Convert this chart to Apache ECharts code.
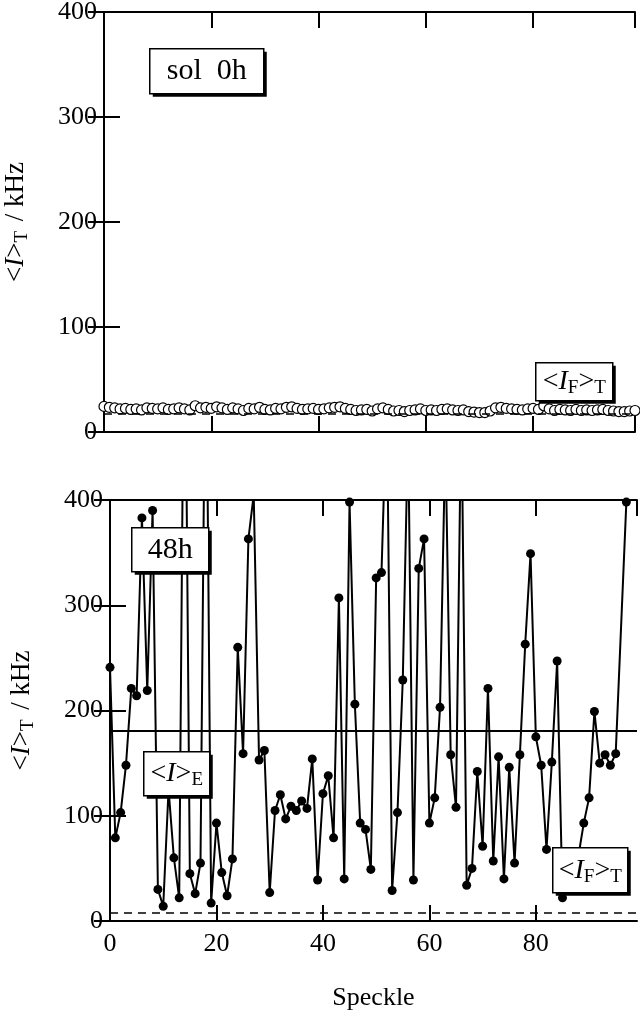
<!DOCTYPE html>
<html>
<head>
<meta charset="utf-8">
<script src="https://cdn.jsdelivr.net/npm/echarts@6/dist/echarts.min.js"></script>
<style>
  html, body { margin: 0; padding: 0; background: #fff; }
  #myChart { width: 640px; height: 1016px; }
</style>
</head>
<body>
<div id="myChart"></div>
<script>
// top panel: sol 0h, open circles
var topValues = [
  24.4, 23.5, 23, 22, 22.5, 21.5, 22, 21, 23, 22.5, 22,
  23, 21.5, 22, 23, 22, 21, 25, 23, 23.5, 22.5,
  24, 23, 21.5, 23, 22, 20.5, 22.5, 22, 23.5, 21.5,
  21, 22.5, 22, 23.5, 24, 22.5, 21.5, 22, 22.5, 21.5,
  22, 23, 23.5, 24, 22.5, 21.5, 20.5, 21, 21.5, 20,
  22, 23, 21.5, 20, 20.5, 19.5, 20.5, 21, 22, 20.5,
  21, 20.5, 21.5, 22, 21, 20.5, 21, 19.5, 19, 18.5,
  18.5, 20, 23, 23.5, 22.5, 22, 21.5, 21, 22, 22.5,
  21.5, 25, 22, 20.5, 21.5, 21, 20.5, 21.5, 20.5, 21,
  20.5, 21, 21.5, 20.5, 20, 19.5, 19.5, 20, 20.5
];
// bottom panel: 48h, filled circles (values above 400 run off the frame)
var bottomValues = [
  241, 79, 103, 148, 221, 214, 383, 219, 390, 30,
  14, 125, 60, 22, 640, 45, 26, 55, 610, 17,
  93, 46, 24, 59, 260, 159, 363, 405, 153, 162,
  27, 105, 120, 97, 109, 105, 114, 107, 154, 39,
  121, 138, 79, 307, 40, 398, 206, 93, 87, 49,
  326, 331, 500, 29, 103, 229, 470, 39, 335, 363,
  93, 117, 203, 460, 158, 108, 500, 34, 50, 142,
  71, 221, 57, 156, 40, 146, 55, 158, 263, 349,
  175, 148, 68, 151, 247, 22, 55, 40, 62, 93,
  117, 199, 150, 158, 148, 159, null, 398
];
var topFloor = 17;      // <I_F>_T, sol 0h
var bottomFloor = 8;    // <I_F>_T, 48h
var bottomMean = 181;   // <I>_E
var yTicks = [0, 100, 200, 300, 400];
var xTicks = [0, 20, 40, 60, 80];

var FONT = 'Liberation Serif';
var myChart = echarts.init(document.getElementById('myChart'));

function xAx (grid, pos, labels, name) {
  return {
    type: 'value', gridIndex: grid, position: pos,
    min: xTicks[0], max: 99, interval: xTicks[1] - xTicks[0],
    name: name || '', nameLocation: 'middle', nameGap: 64,
    nameTextStyle: { fontFamily: FONT, fontSize: 26, color: '#000' },
    axisLine: { show: true, onZero: false, lineStyle: { color: '#000', width: 2 } },
    axisTick: { show: true, inside: true, length: 16, lineStyle: { color: '#000', width: 2 } },
    axisLabel: { show: labels, showMaxLabel: false, margin: 10, fontFamily: FONT, fontSize: 26, color: '#000' },
    splitLine: { show: false }
  };
}
function yAx (grid, pos, labels) {
  return {
    type: 'value', gridIndex: grid, position: pos,
    min: yTicks[0], max: yTicks[yTicks.length - 1], interval: yTicks[1] - yTicks[0],
    name: labels ? '{a|<}{i|I}{a|>}{s|T}{a| / kHz}' : '',
    nameLocation: 'middle', nameGap: 72,
    nameTextStyle: {
      fontFamily: FONT, fontSize: 27, color: '#000',
      rich: {
        a: { fontFamily: FONT, fontSize: 27, color: '#000' },
        i: { fontFamily: FONT, fontSize: 27, fontStyle: 'italic', color: '#000' },
        s: { fontFamily: FONT, fontSize: 19, color: '#000', padding: [13, 3, 0, 0] }
      }
    },
    axisLine: { show: true, lineStyle: { color: '#000', width: 2 } },
    axisTick: { show: true, inside: true, length: 16, lineStyle: { color: '#000', width: 2 } },
    axisLabel: { show: labels, margin: 7, fontFamily: FONT, fontSize: 26, color: '#000' },
    splitLine: { show: false }
  };
}

function box (x, y, w, h, rich, text) {
  return {
    type: 'group', left: x, top: y, z: 100,
    children: [
      { type: 'rect', z: 100, shape: { x: 3, y: 3, width: w, height: h }, style: { fill: '#000' } },
      { type: 'rect', z: 101, shape: { x: 0, y: 0, width: w, height: h }, style: { fill: '#fff', stroke: '#000', lineWidth: 1.5 } },
      { type: 'text', z: 102, x: w / 2, y: h / 2,
        style: { text: text, align: 'center', verticalAlign: 'middle', rich: rich,
                 fontFamily: FONT, fontSize: 30, fill: '#000' } }
    ]
  };
}
var boxRich = {
  a: { fontFamily: FONT, fontSize: 28, color: '#000' },
  i: { fontFamily: FONT, fontSize: 28, fontStyle: 'italic', color: '#000' },
  s: { fontFamily: FONT, fontSize: 19, color: '#000', padding: [13, 0, 0, 0] }
};

myChart.setOption({
  animation: false,
  grid: [
    { left: 104, right: 5, top: 12, height: 420, outerBoundsMode: 'none' },
    { left: 110, right: 3, top: 500, height: 421, outerBoundsMode: 'none' }
  ],
  xAxis: [xAx(0, 'bottom', false), xAx(0, 'top', false), xAx(1, 'bottom', true, 'Speckle'), xAx(1, 'top', false)],
  yAxis: [yAx(0, 'left', true), yAx(0, 'right', false), yAx(1, 'left', true), yAx(1, 'right', false)],
  series: [
    {
      type: 'line', xAxisIndex: 0, yAxisIndex: 0,
      data: topValues.map(function (v, i) { return [i, v]; }),
      symbol: 'circle', symbolSize: 10,
      itemStyle: { color: '#fff', borderColor: '#000', borderWidth: 1.2 },
      lineStyle: { color: '#000', width: 1.2 },
      markLine: {
        silent: true, symbol: 'none', label: { show: false },
        lineStyle: { color: '#000', width: 1.5, type: [8, 6] },
        data: [{ yAxis: topFloor }]
      }
    },
    {
      type: 'line', xAxisIndex: 2, yAxisIndex: 2,
      data: bottomValues.map(function (v, i) { return [i, v]; }),
      connectNulls: true,
      symbol: 'circle', symbolSize: 9,
      itemStyle: { color: '#000' },
      lineStyle: { color: '#000', width: 2 },
      markLine: {
        silent: true, symbol: 'none', label: { show: false },
        data: [
          { yAxis: bottomFloor, lineStyle: { color: '#000', width: 1.5, type: [8, 6] } },
          { yAxis: bottomMean, lineStyle: { color: '#000', width: 2, type: 'solid' } }
        ]
      }
    }
  ],
  graphic: [
    box(149, 48, 114, 45, null, 'sol  0h'),
    box(535, 362, 77, 38, boxRich, '{a|<}{i|I}{s|F}{a|>}{s|T}'),
    box(131, 527, 77, 44, null, '48h'),
    box(143, 751, 66, 44, boxRich, '{a|<}{i|I}{a|>}{s|E}'),
    box(552, 847, 75, 45, boxRich, '{a|<}{i|I}{s|F}{a|>}{s|T}')
  ]
});
</script>
</body>
</html>
